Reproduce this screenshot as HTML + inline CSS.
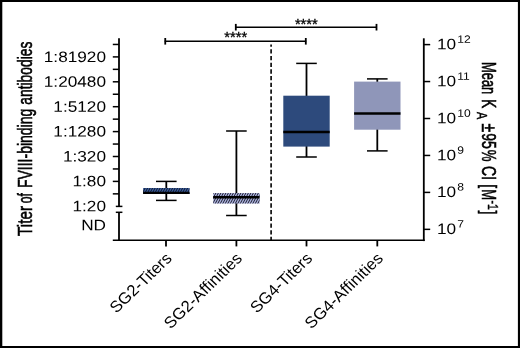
<!DOCTYPE html>
<html lang="en"><head><meta charset="utf-8"><title>Figure</title>
<style>html,body{margin:0;padding:0;background:#fff;}body{width:520px;height:348px;overflow:hidden;}svg{display:block;}text{font-family:'Liberation Sans', sans-serif;fill:#000;}</style>
</head><body>
<svg width="520" height="348" viewBox="0 0 520 348">
<rect x="0" y="0" width="520" height="348" fill="#fff"/>
<path d="M0 0H520V348H0Z M2.3 2H517.9V346H2.3Z" fill="#000" fill-rule="evenodd"/>
<g stroke="#000" fill="none">
<line x1="119" y1="38.3" x2="119" y2="206.4" stroke-width="1.8"/>
<line x1="119" y1="212.3" x2="119" y2="241.1" stroke-width="1.8"/>
<line x1="115.8" y1="206.4" x2="122.4" y2="206.4" stroke-width="1.5"/>
<line x1="115.8" y1="212.3" x2="122.4" y2="212.3" stroke-width="1.5"/>
<line x1="112.8" y1="44.45" x2="119" y2="44.45" stroke-width="1.5"/>
<line x1="112.8" y1="56.90" x2="119" y2="56.90" stroke-width="1.5"/>
<line x1="112.8" y1="69.35" x2="119" y2="69.35" stroke-width="1.5"/>
<line x1="112.8" y1="81.80" x2="119" y2="81.80" stroke-width="1.5"/>
<line x1="112.8" y1="94.25" x2="119" y2="94.25" stroke-width="1.5"/>
<line x1="112.8" y1="106.70" x2="119" y2="106.70" stroke-width="1.5"/>
<line x1="112.8" y1="119.15" x2="119" y2="119.15" stroke-width="1.5"/>
<line x1="112.8" y1="131.60" x2="119" y2="131.60" stroke-width="1.5"/>
<line x1="112.8" y1="144.05" x2="119" y2="144.05" stroke-width="1.5"/>
<line x1="112.8" y1="156.50" x2="119" y2="156.50" stroke-width="1.5"/>
<line x1="112.8" y1="168.95" x2="119" y2="168.95" stroke-width="1.5"/>
<line x1="112.8" y1="181.40" x2="119" y2="181.40" stroke-width="1.5"/>
<line x1="112.8" y1="193.85" x2="119" y2="193.85" stroke-width="1.5"/>
<line x1="112.8" y1="240.35" x2="424.7" y2="240.35" stroke-width="1.5"/>
<line x1="423.8" y1="38.3" x2="423.8" y2="241.1" stroke-width="1.8"/>
<line x1="423.8" y1="44.60" x2="430.2" y2="44.60" stroke-width="1.5"/>
<line x1="423.8" y1="81.55" x2="430.2" y2="81.55" stroke-width="1.5"/>
<line x1="423.8" y1="118.50" x2="430.2" y2="118.50" stroke-width="1.5"/>
<line x1="423.8" y1="155.45" x2="430.2" y2="155.45" stroke-width="1.5"/>
<line x1="423.8" y1="192.40" x2="430.2" y2="192.40" stroke-width="1.5"/>
<line x1="423.8" y1="229.35" x2="430.2" y2="229.35" stroke-width="1.5"/>
<line x1="166.0" y1="240" x2="166.0" y2="246.4" stroke-width="1.8"/>
<line x1="236.4" y1="240" x2="236.4" y2="246.4" stroke-width="1.8"/>
<line x1="306.5" y1="240" x2="306.5" y2="246.4" stroke-width="1.8"/>
<line x1="377.3" y1="240" x2="377.3" y2="246.4" stroke-width="1.8"/>
<line x1="271.1" y1="44.5" x2="271.1" y2="240" stroke-width="1.6" stroke-dasharray="4.3 2.4" stroke-dashoffset="1.95"/>
<line x1="164.7" y1="41.3" x2="306.2" y2="41.3" stroke-width="1.5"/>
<line x1="165.25" y1="38" x2="165.25" y2="44.6" stroke-width="1.8"/>
<line x1="305.8" y1="38" x2="305.8" y2="44.6" stroke-width="1.8"/>
<line x1="235.2" y1="27.2" x2="377.0" y2="27.2" stroke-width="1.5"/>
<line x1="235.8" y1="23.9" x2="235.8" y2="30.5" stroke-width="1.8"/>
<line x1="376.5" y1="23.9" x2="376.5" y2="30.5" stroke-width="1.8"/>
</g>
<g stroke="#000" fill="none">
<line x1="166.3" y1="181.4" x2="166.3" y2="200.4" stroke-width="1.8"/>
<line x1="156.00" y1="181.4" x2="176.60" y2="181.4" stroke-width="1.5"/>
<line x1="156.00" y1="200.4" x2="176.60" y2="200.4" stroke-width="1.5"/>
</g>
<rect x="143.10" y="188.0" width="46.4" height="5.90" fill="#3a5c9c"/>
<clipPath id="c1"><rect x="143.10" y="188.0" width="46.4" height="5.90"/></clipPath>
<g clip-path="url(#c1)"><path d="M136.47 194.90L140.67 187.00M138.97 194.90L143.17 187.00M141.47 194.90L145.67 187.00M143.97 194.90L148.17 187.00M146.47 194.90L150.67 187.00M148.97 194.90L153.17 187.00M151.47 194.90L155.67 187.00M153.97 194.90L158.17 187.00M156.47 194.90L160.67 187.00M158.97 194.90L163.17 187.00M161.47 194.90L165.67 187.00M163.97 194.90L168.17 187.00M166.47 194.90L170.67 187.00M168.97 194.90L173.17 187.00M171.47 194.90L175.67 187.00M173.97 194.90L178.17 187.00M176.47 194.90L180.67 187.00M178.97 194.90L183.17 187.00M181.47 194.90L185.67 187.00M183.97 194.90L188.17 187.00M186.47 194.90L190.67 187.00M188.97 194.90L193.17 187.00" stroke="#0b1220" stroke-width="0.9" fill="none"/></g>
<line x1="143.10" y1="192.95" x2="189.50" y2="192.95" stroke="#000" stroke-width="2.2"/>
<g stroke="#000" fill="none">
<line x1="236.4" y1="131.0" x2="236.4" y2="215.5" stroke-width="1.8"/>
<line x1="226.10" y1="131.0" x2="246.70" y2="131.0" stroke-width="1.5"/>
<line x1="226.10" y1="215.5" x2="246.70" y2="215.5" stroke-width="1.5"/>
</g>
<rect x="213.20" y="193.1" width="46.4" height="10.40" fill="#a9b0dc"/>
<clipPath id="c2"><rect x="213.20" y="193.1" width="46.4" height="10.40"/></clipPath>
<g clip-path="url(#c2)"><path d="M204.77 204.50L211.36 192.10M207.27 204.50L213.86 192.10M209.77 204.50L216.36 192.10M212.27 204.50L218.86 192.10M214.77 204.50L221.36 192.10M217.27 204.50L223.86 192.10M219.77 204.50L226.36 192.10M222.27 204.50L228.86 192.10M224.77 204.50L231.36 192.10M227.27 204.50L233.86 192.10M229.77 204.50L236.36 192.10M232.27 204.50L238.86 192.10M234.77 204.50L241.36 192.10M237.27 204.50L243.86 192.10M239.77 204.50L246.36 192.10M242.27 204.50L248.86 192.10M244.77 204.50L251.36 192.10M247.27 204.50L253.86 192.10M249.77 204.50L256.36 192.10M252.27 204.50L258.86 192.10M254.77 204.50L261.36 192.10M257.27 204.50L263.86 192.10M259.77 204.50L266.36 192.10" stroke="#1a1a28" stroke-width="0.95" fill="none"/></g>
<line x1="213.20" y1="197.3" x2="259.60" y2="197.3" stroke="#000" stroke-width="2.6"/>
<g stroke="#000" fill="none">
<line x1="306.5" y1="63.4" x2="306.5" y2="157.0" stroke-width="1.8"/>
<line x1="296.20" y1="63.4" x2="316.80" y2="63.4" stroke-width="1.5"/>
<line x1="296.20" y1="157.0" x2="316.80" y2="157.0" stroke-width="1.5"/>
</g>
<rect x="283.30" y="95.7" width="46.4" height="50.90" fill="#2d4a7c"/>
<line x1="283.30" y1="132.0" x2="329.70" y2="132.0" stroke="#000" stroke-width="2.6"/>
<g stroke="#000" fill="none">
<line x1="377.3" y1="78.9" x2="377.3" y2="150.9" stroke-width="1.8"/>
<line x1="367.00" y1="78.9" x2="387.60" y2="78.9" stroke-width="1.5"/>
<line x1="367.00" y1="150.9" x2="387.60" y2="150.9" stroke-width="1.5"/>
</g>
<rect x="354.10" y="81.6" width="46.4" height="48.10" fill="#8f96b9"/>
<line x1="354.10" y1="113.55" x2="400.50" y2="113.55" stroke="#000" stroke-width="2.6"/>
<text transform="translate(106.0,62.00) scale(1.14,1) rotate(0.03)" font-size="15.1" text-anchor="end">1:81920</text>
<text transform="translate(106.0,86.87) scale(1.14,1) rotate(0.03)" font-size="15.1" text-anchor="end">1:20480</text>
<text transform="translate(106.0,111.74) scale(1.14,1) rotate(0.03)" font-size="15.1" text-anchor="end">1:5120</text>
<text transform="translate(106.0,136.61) scale(1.14,1) rotate(0.03)" font-size="15.1" text-anchor="end">1:1280</text>
<text transform="translate(106.0,161.48) scale(1.14,1) rotate(0.03)" font-size="15.1" text-anchor="end">1:320</text>
<text transform="translate(106.0,186.35) scale(1.14,1) rotate(0.03)" font-size="15.1" text-anchor="end">1:80</text>
<text transform="translate(106.0,211.22) scale(1.14,1) rotate(0.03)" font-size="15.1" text-anchor="end">1:20</text>
<text transform="translate(106.0,230.30) scale(1.14,1) rotate(0.03)" font-size="15.1" text-anchor="end">ND</text>
<text transform="translate(437.0,49.30) scale(1.14,1) rotate(0.03)" font-size="15.1">10<tspan dy="-6.5" dx="1.0" font-size="10.6">12</tspan></text>
<text transform="translate(437.0,86.25) scale(1.14,1) rotate(0.03)" font-size="15.1">10<tspan dy="-6.5" dx="1.0" font-size="10.6">11</tspan></text>
<text transform="translate(437.0,123.20) scale(1.14,1) rotate(0.03)" font-size="15.1">10<tspan dy="-6.5" dx="1.0" font-size="10.6">10</tspan></text>
<text transform="translate(437.0,160.15) scale(1.14,1) rotate(0.03)" font-size="15.1">10<tspan dy="-6.5" dx="1.0" font-size="10.6">9</tspan></text>
<text transform="translate(437.0,197.10) scale(1.14,1) rotate(0.03)" font-size="15.1">10<tspan dy="-6.5" dx="1.0" font-size="10.6">8</tspan></text>
<text transform="translate(437.0,234.05) scale(1.14,1) rotate(0.03)" font-size="15.1">10<tspan dy="-6.5" dx="1.0" font-size="10.6">7</tspan></text>
<text transform="translate(235.65,42.0) scale(1.06,1)" font-size="13.9" stroke="#000" stroke-width="0.3" text-anchor="middle">****</text>
<text transform="translate(306.35,29.2) scale(1.06,1)" font-size="13.9" stroke="#000" stroke-width="0.3" text-anchor="middle">****</text>
<text transform="translate(172.80,259.2) scale(1.05,1) rotate(-45.5)" font-size="15.9" letter-spacing="0.02" text-anchor="end">SG2-Titers</text>
<text transform="translate(243.20,259.2) scale(1.05,1) rotate(-45.5)" font-size="15.9" letter-spacing="0.12" text-anchor="end">SG2-Affinities</text>
<text transform="translate(313.30,259.2) scale(1.05,1) rotate(-45.5)" font-size="15.9" letter-spacing="0.02" text-anchor="end">SG4-Titers</text>
<text transform="translate(384.10,259.2) scale(1.05,1) rotate(-45.5)" font-size="15.9" letter-spacing="0.12" text-anchor="end">SG4-Affinities</text>
<text transform="translate(31.9,0) scale(1.39,1) rotate(-90)" font-size="13.96" stroke="#000" stroke-width="0.42"><tspan x="-235.9" y="0" textLength="29.9" lengthAdjust="spacingAndGlyphs">Titer</tspan> <tspan x="-203.3" y="0" textLength="10.2" lengthAdjust="spacingAndGlyphs">of</tspan> <tspan x="-188.1" y="0" textLength="79.4" lengthAdjust="spacingAndGlyphs">FVIII-binding</tspan> <tspan x="-104.7" y="0" textLength="63.0" lengthAdjust="spacingAndGlyphs">antibodies</tspan></text>
<text transform="translate(481.7,0) scale(1.39,1) rotate(90)" font-size="13.96" stroke="#000" stroke-width="0.42"><tspan x="62.0" y="0" textLength="32.3" lengthAdjust="spacingAndGlyphs">Mean</tspan> <tspan x="99.0" y="0">K</tspan><tspan x="112.0" y="3.3" font-size="11.0" stroke-width="0.35" textLength="7.3" lengthAdjust="spacingAndGlyphs">A</tspan> <tspan x="123.5" y="0" textLength="8.7" lengthAdjust="spacingAndGlyphs">±</tspan><tspan x="133.3" y="0" textLength="15.5" lengthAdjust="spacingAndGlyphs">95</tspan><tspan x="149.7" y="0" textLength="11.7" lengthAdjust="spacingAndGlyphs">%</tspan> <tspan x="166.1" y="0">CI</tspan> <tspan x="184.3" y="0">[</tspan><tspan x="189.2" y="0" textLength="10.9" lengthAdjust="spacingAndGlyphs">M</tspan><tspan x="200.6" y="-4.6" font-size="10.6" stroke-width="0.35">-1</tspan><tspan x="210.6" y="0">]</tspan></text>
</svg>
</body></html>
